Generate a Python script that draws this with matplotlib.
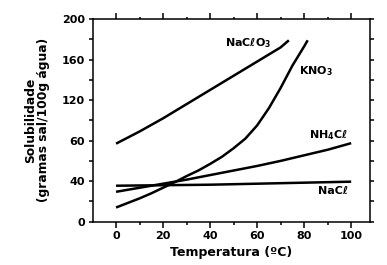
import matplotlib
matplotlib.use("Agg")
import matplotlib.pyplot as plt
from matplotlib.ticker import MultipleLocator

plt.rcParams['font.family'] = ['DejaVu Sans']
plt.rcParams['font.weight'] = 'bold'
plt.rcParams['mathtext.fontset'] = 'dejavusans'
plt.rcParams['mathtext.default'] = 'bf'

# Data (solubility, g salt / 100 g water)
naclo3_t = [0, 10, 20, 30, 40, 50, 60, 70, 73.5]
naclo3_s = [77, 89, 102, 116, 130, 144, 158, 172, 179]

kno3_t = [0, 5, 10, 15, 20, 25, 30, 35, 40, 45, 50, 55, 60, 65, 70, 75, 80, 81.5]
kno3_s = [14, 18.5, 23, 28, 33.5, 39, 45, 50.5, 57, 64, 72.5, 82, 95, 112, 132, 154, 173, 179]

nh4cl_t = [0, 10, 20, 30, 40, 50, 60, 70, 80, 90, 100]
nh4cl_s = [29.5, 33.5, 37.5, 41.5, 46, 50.5, 55, 60, 65.5, 71, 77.5]

nacl_t = [0, 20, 40, 60, 80, 100]
nacl_s = [35.5, 36, 36.5, 37.5, 38.5, 39.5]

x_ticks = [0, 20, 40, 60, 80, 100]
y_ticks = [0, 40, 80, 120, 160, 200]
y_tick_labels = ['0', '40', '60', '120', '160', '200']

fig = plt.figure(figsize=(3.87, 2.65), dpi=100)
ax = fig.add_axes([93/387, 1-221.7/265, (370-93)/387, (221.7-19)/265])

lw = 1.8
for t, s in [(naclo3_t, naclo3_s), (kno3_t, kno3_s), (nh4cl_t, nh4cl_s), (nacl_t, nacl_s)]:
    ax.plot(t, s, color='black', lw=lw, solid_capstyle='butt', solid_joinstyle='round')

ax.set_xlim(-9.8, 108)
ax.set_ylim(0, 200)
ax.set_xticks(x_ticks)
ax.set_yticks(y_ticks)
ax.set_yticklabels(y_tick_labels)
ax.xaxis.set_minor_locator(MultipleLocator(10))
ax.yaxis.set_minor_locator(MultipleLocator(20))

for sp in ax.spines.values():
    sp.set_linewidth(1.1)

ax.tick_params(axis='both', which='both', direction='out', width=1.1,
               labelsize=8, colors='black')
ax.tick_params(axis='x', which='major', length=4, top=True, pad=3)
ax.tick_params(axis='x', which='minor', length=1.8, top=True)
ax.tick_params(axis='y', which='major', length=3, right=True, pad=3)
ax.tick_params(axis='y', which='minor', length=3, right=True)
for lab in ax.get_xticklabels() + ax.get_yticklabels():
    lab.set_fontweight('bold')

ax.set_xlabel('Temperatura (ºC)', fontsize=9, fontweight='bold', labelpad=3)
ax.set_ylabel('Solubilidade\n(gramas sal/100g água)', fontsize=8.8,
              fontweight='bold', labelpad=8, linespacing=1.05)

fs = 8
ax.text(66, 176, 'NaCℓO$_3$', fontsize=fs, fontweight='bold', ha='right', va='center')
ax.text(78, 149, 'KNO$_3$', fontsize=fs, fontweight='bold', ha='left', va='center')
ax.text(98.5, 85.5, 'NH$_4$Cℓ', fontsize=fs, fontweight='bold', ha='right', va='center')
ax.text(98.5, 30, 'NaCℓ', fontsize=fs, fontweight='bold', ha='right', va='center')

fig.savefig('out.png', dpi=100)
